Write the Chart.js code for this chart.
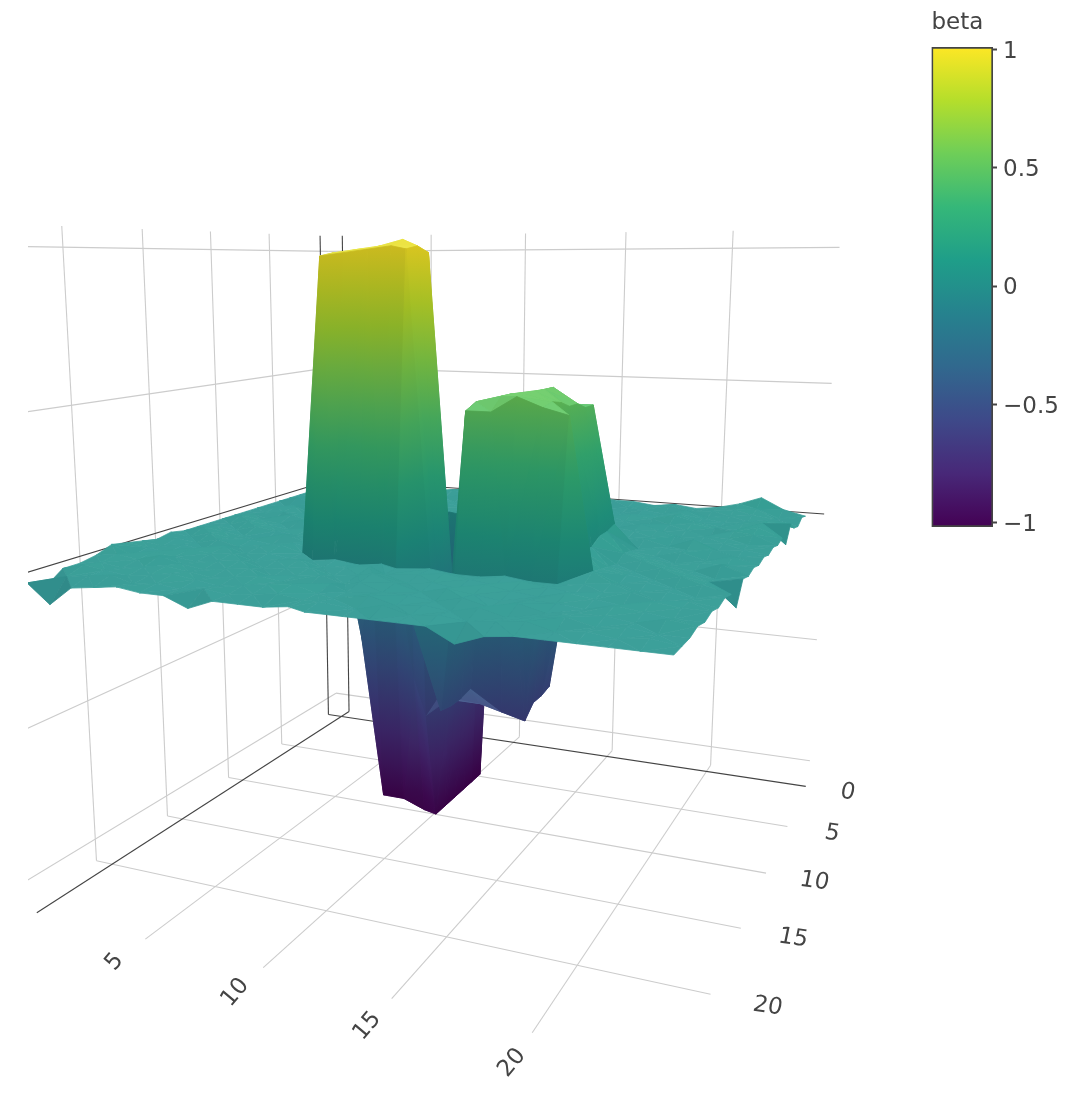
<!DOCTYPE html><html><head><meta charset="utf-8">
<style>html,body{margin:0;background:#fff}canvas{position:absolute;top:0}</style>
<script src="https://cdn.jsdelivr.net/npm/chart.js@4"></script></head><body>
<canvas id="scene" width="1072" height="1098" style="left:0"></canvas>
<canvas id="bar" width="172" height="560" style="left:900px"></canvas>
<script>
const xGrid=[0,1,2,3,4,5,6,7,8,9,10,11,11.6,13,14,15,16,17,18,19,20,21,22,23,24];
const yGrid=[0,1,2,3,4,5,6,7,8,9,10,11,12,13,14,15,16,17,18,19,20,21,22,23,24];
const xTicks=[5,10,15,20];
const yTicks=[0,5,10,15,20];
const zTicks=[-1,-0.5,0.5,1];
const colorTicks=[-1,-0.5,0,0.5,1];
const viridis=['#440154','#482878','#3e4989','#31688e','#26828e','#1f9e89','#35b779','#6ece58','#b5de2b','#fde725'];
const betaRows=[
[.01,.00,.01,-.01,.01,.02,.00,.01,-.01,.01,.00,.02,.01,-.01,.00,.01,.01,.00,.01,.00,.01,.03,.06,.02,.00],
[.00,.01,-.01,.02,.00,-.01,.01,.02,.00,.01,.02,-.01,.00,.01,.02,-.01,.00,.01,.02,.00,.01,.02,.03,.00,.01],
[.01,-.01,.01,.00,.02,.01,-.01,.00,.02,-.01,.01,.00,.01,.02,.00,.01,-.01,.01,.00,.02,.00,.01,.02,.01,-.01],
[.00,.02,.01,-.01,.00,.02,-.01,.01,.00,.02,.01,-.01,.02,.00,.01,.02,-.01,.00,.01,.02,.01,.00,.01,.02,.00],
[.00,.00,-.01,.02,.01,.00,.02,-.01,.01,.00,.02,.01,.00,-.01,.02,.00,.01,.02,.01,.03,.01,.00,.02,.03,.03],
[.00,.01,.02,.00,-.01,.01,.00,.02,.01,-.01,.00,.02,.01,.01,.00,.02,.00,.01,-.01,.01,.02,.01,.01,.04,-.03],
[.00,.02,.00,.01,.02,-.01,.01,.00,.00,.01,.00,.00,.01,.00,.02,.01,.00,.00,.02,.00,.01,-.01,.02,.04,.01],
[.00,-.01,.01,.02,.00,.01,.00,.01,-.98,-.99,-1.0,-1.0,.00,.01,.00,.01,.01,.00,.01,.02,.00,.01,.01,.03,.00],
[.00,.01,.02,-.01,.01,.00,.02,.00,-1.0,-1.0,-.99,-1.0,.00,.00,.00,.00,.00,.01,.00,.01,.02,.00,.01,.01,.01],
[.00,.00,.01,.01,-.01,.02,.00,.01,-1.0,-.99,-1.0,-1.0,-.50,-.50,-.50,-.55,.00,.05,.00,.02,.00,.03,.00,.01,.00],
[.00,.01,-.01,.02,.00,.01,.01,.00,-.99,-1.0,-1.0,-1.0,-.50,-.50,-.50,-.56,.48,.48,.08,.00,.01,.01,.02,.00,.01],
[.00,.02,.01,.00,.02,-.01,.00,-.40,-1.0,-1.0,-1.03,-1.0,-.50,-.50,-.50,-.56,.48,.48,.07,.01,.00,.02,.00,.02,.00],
[.00,.00,.02,.01,.00,.01,.02,.00,.00,.00,-.50,-1.0,-.56,-.56,-.58,-.60,.55,.50,.07,.02,.01,.00,.01,.01,.01],
[.00,.01,.00,.02,.01,.00,.01,.00,.95,.97,.98,-.60,-.52,-.48,.50,.53,.55,.50,.05,.00,.02,.01,.00,.03,.00],
[.00,.02,.01,.00,-.01,.02,.00,.00,.98,.99,1.0,1.0,.98,-.49,.50,.54,.55,.52,.05,.01,.00,.02,.01,.00,.01],
[.01,.00,.02,.01,.01,.00,.01,.00,.98,.99,1.0,1.02,1.0,-.49,.52,.54,.55,.53,.06,.02,.01,.00,.02,.01,-.06],
[.00,.01,.00,.02,.00,.01,.02,.00,.97,.98,.99,1.0,.99,-.48,.50,.50,.55,.52,.50,.03,.00,.01,.00,.02,.00],
[.01,.00,.01,.00,.02,.00,.01,.00,.00,.01,.00,.01,.00,.01,.00,.00,.01,.00,.00,.01,.02,.00,.01,.00,.01],
[.02,.01,.00,.02,.01,.02,.00,.01,.02,.00,.01,.02,.00,.01,.02,.01,.00,.02,.01,.00,.01,.02,.00,.01,.00],
[.03,.00,.02,.01,.00,.01,.02,.00,.01,.02,.00,.01,.02,.00,.01,.00,.02,.01,.00,.02,.01,.00,.02,.01,.01],
[.01,.02,.01,.03,.01,.00,.01,.02,.00,.01,.02,.00,.01,.02,.00,.02,.01,.00,.01,.01,.00,.02,.01,.00,.00],
[.00,.01,.00,.01,.02,.01,.00,.01,.02,.01,.00,.02,.00,.01,.01,.00,.02,.00,.02,.00,.01,.01,.00,.02,.01],
[.00,.02,.01,.00,.01,.02,.01,.00,.01,.02,.03,.01,.00,.02,.00,.01,.00,.02,.00,.01,.02,.00,.01,.00,.00],
[-.04,.00,.01,.02,.00,.01,.00,.01,.00,.01,.02,.01,.01,.00,.02,.00,.01,.00,.01,.02,.00,.01,.00,.01,.00],
[-.01,-.07,-.01,.00,.01,.00,.00,-.03,.00,.00,.00,.01,.00,.00,.00,.00,.00,-.04,-.01,.00,.00,.00,.00,.00,.00]
];
const boxX=[-0.8,24.7],boxY=[-0.9,24.6],boxZ=[-1.08,1.065];
const labelX=26.6,labelY=26.4;
const P=[[14.875279,-13.297969,-14.806917,337.74857],[-1.5674562,-3.3417899,-240.30517,482.98809],[-0.0057202165,-0.012718251,-0.033588001,1]];
const project=(x,y,z)=>{const w=P[2][0]*x+P[2][1]*y+P[2][2]*z+1;return{x:(P[0][0]*x+P[0][1]*y+P[0][2]*z+P[0][3])/w,y:(P[1][0]*x+P[1][1]*y+P[1][2]*z+P[1][3])/w};};
function cameraXY(){const m=[[P[0][0],P[0][1],P[0][2],-P[0][3]],[P[1][0],P[1][1],P[1][2],-P[1][3]],[P[2][0],P[2][1],P[2][2],-1]];
 for(let i=0;i<3;i++){let p=i;for(let k=i;k<3;k++)if(Math.abs(m[k][i])>Math.abs(m[p][i]))p=k;[m[i],m[p]]=[m[p],m[i]];for(let k=0;k<3;k++)if(k!=i){const f=m[k][i]/m[i][i];for(let j=i;j<4;j++)m[k][j]-=f*m[i][j];}}
 return m.map((r,i)=>r[3]/r[i]);}
const rgbStops=viridis.map(h=>[1,3,5].map(i=>parseInt(h.substr(i,2),16)));
function vir(z){let t=(Math.min(1,Math.max(-1,z))+1)/2*(rgbStops.length-1);const i=Math.min(rgbStops.length-2,Math.floor(t));t-=i;return rgbStops[i].map((c,k)=>c+(rgbStops[i+1][k]-c)*t);}
const Z_SCALE=11;
function shadeOf(a,b,c){const ux=b[0]-a[0],uy=b[1]-a[1],uz=(b[2]-a[2])*Z_SCALE,vx=c[0]-a[0],vy=c[1]-a[1],vz=(c[2]-a[2])*Z_SCALE;
 let nx=uy*vz-uz*vy,ny=uz*vx-ux*vz,nz=ux*vy-uy*vx;const l=Math.hypot(nx,ny,nz)||1;nx/=l;ny/=l;nz/=l;if(nz<0){nx=-nx;ny=-ny;nz=-nz;}
 return{k:.8+.05*Math.max(0,nx),f:Math.pow(nz,1.5)};}
function col(z,sh){const c=vir(z);return`rgb(${Math.round(c[0]*sh.k+33*sh.f)},${Math.round(c[1]*sh.k+44*sh.f)},${Math.round(c[2]*sh.k+42*sh.f)})`;}
function drawTri(ctx,sx,sy,a,b,c){
 const P3=[a,b,c].map(p=>{const q=project(...p);return{z:p[2],x:sx.getPixelForValue(q.x),y:sy.getPixelForValue(q.y)};});
 const sh=shadeOf(a,b,c);
 const o=[...P3].sort((p,q)=>p.z-q.z),lo=o[0],mid=o[1],hi=o[2];
 let style;
 if(hi.z-lo.z<.08){style=col((lo.z+mid.z+hi.z)/3,sh);}
 else{const t=(mid.z-lo.z)/(hi.z-lo.z),mx=lo.x+(hi.x-lo.x)*t,my=lo.y+(hi.y-lo.y)*t;
  let dx=mid.x-mx,dy=mid.y-my,ex2,ey2;const dl=Math.hypot(dx,dy);
  if(dl<1){ex2=hi.x;ey2=hi.y;}else{const nx=-dy/dl,ny=dx/dl,d=(hi.x-lo.x)*nx+(hi.y-lo.y)*ny;ex2=lo.x+nx*d;ey2=lo.y+ny*d;}
  style=ctx.createLinearGradient(lo.x,lo.y,ex2,ey2);
  for(let i=0;i<=8;i++)style.addColorStop(i/8,col(lo.z+(hi.z-lo.z)*i/8,sh));}
 ctx.fillStyle=style;ctx.strokeStyle=style;ctx.beginPath();ctx.moveTo(P3[0].x,P3[0].y);ctx.lineTo(P3[1].x,P3[1].y);ctx.lineTo(P3[2].x,P3[2].y);ctx.closePath();ctx.fill();ctx.stroke();
}
const surfacePlugin={id:'surface',afterDatasetsDraw(chart){
 const ctx=chart.ctx,sx=chart.scales.x,sy=chart.scales.y,a=chart.chartArea;
 ctx.save();ctx.beginPath();ctx.rect(a.left,a.top,a.right-a.left,a.bottom-a.top);ctx.clip();ctx.lineWidth=.8;ctx.lineJoin='round';
 const cam=cameraXY();const nx=xGrid.length,ny=yGrid.length;
 const order=[];let cx=Math.floor(cam[0]);for(let i=0;i<nx-1;i++)if(i<cx)order.push(i);for(let i=nx-2;i>=0;i--)if(i>=cx)order.push(i);
 const v=(p,q)=>[xGrid[p],yGrid[q],betaRows[q][p]];
 for(let j=0;j<ny-1;j++)for(const i of order){
  const d1=Math.abs(betaRows[j][i+1]-betaRows[j+1][i]),d2=Math.abs(betaRows[j][i]-betaRows[j+1][i+1]);
  if(d1<=d2){drawTri(ctx,sx,sy,v(i,j),v(i+1,j),v(i,j+1));drawTri(ctx,sx,sy,v(i+1,j),v(i+1,j+1),v(i,j+1));}
  else{drawTri(ctx,sx,sy,v(i,j),v(i+1,j),v(i+1,j+1));drawTri(ctx,sx,sy,v(i,j),v(i+1,j+1),v(i,j+1));}
 }
 ctx.restore();
 ctx.save();ctx.fillStyle='#444';ctx.font='23px "DejaVu Sans"';ctx.textAlign='center';ctx.textBaseline='middle';
 const th=(50)*Math.PI/180;
 for(const t of xTicks){const p=project(t,labelY,boxZ[0]);ctx.setTransform(Math.cos(th),-Math.sin(th),Math.sin(th),Math.cos(th),sx.getPixelForValue(p.x),sy.getPixelForValue(p.y));ctx.fillText(String(t),0,0);}
 for(const t of yTicks){const p=project(labelX,t,boxZ[0]);ctx.setTransform(.99,.14,-.2,.98,sx.getPixelForValue(p.x),sy.getPixelForValue(p.y));ctx.fillText(String(t),0,0);}
 ctx.restore();
}};
const lines=[];
function seg(a,b,zero){lines.push({data:[project(...a),project(...b)],showLine:true,pointRadius:0,borderColor:zero?'#444':'rgb(204,204,204)',borderWidth:1.1,order:zero?0:1});}
const [x0,x1]=boxX,[y0,y1]=boxY,[z0,z1]=boxZ;
for(const t of [0,...xTicks]){seg([t,y0,z0],[t,y1,z0],t===0);seg([t,y0,z0],[t,y0,z1],t===0);}
for(const t of yTicks){seg([x0,t,z0],[x1,t,z0],t===0);seg([x0,t,z0],[x0,t,z1],t===0);}
for(const t of [0,...zTicks]){seg([x0,y0,t],[x1,y0,t],t===0);seg([x0,y0,t],[x0,y1,t],t===0);}
Chart.defaults.animation=false;
new Chart(document.getElementById('scene'),{type:'scatter',data:{datasets:lines},plugins:[surfacePlugin],
 options:{responsive:false,devicePixelRatio:1,layout:{padding:{left:28}},plugins:{legend:{display:false},tooltip:{enabled:false}},
 scales:{x:{type:'linear',display:false,min:28,max:1072},y:{type:'linear',display:false,reverse:true,min:0,max:1098}}}});
new Chart(document.getElementById('bar'),{type:'bar',
 data:{labels:['beta'],datasets:[{data:[[-1.018,1.0097]],barPercentage:1,categoryPercentage:1,borderColor:'#444',borderWidth:2,borderSkipped:false,
  backgroundColor(c){const a=c.chart.chartArea;if(!a)return '#fff';const g=c.chart.ctx.createLinearGradient(0,a.bottom,0,a.top);viridis.forEach((h,i)=>g.addColorStop(i/(viridis.length-1),h));return g;}}]},
 options:{responsive:false,devicePixelRatio:1,layout:{padding:{left:31.5,top:9,bottom:33}},
 plugins:{legend:{display:false},tooltip:{enabled:false},title:{display:true,text:'beta',align:'start',color:'#444',font:{family:'"DejaVu Sans"',size:23,weight:'normal'},padding:{top:0,bottom:10.4}}},
 scales:{x:{display:false},y:{position:'right',min:-1.018,max:1.0097,afterBuildTicks(s){s.ticks=colorTicks.map(v=>({value:v}));},afterFit(s){s.width=79;},
  border:{display:false},grid:{drawOnChartArea:false,tickLength:4,tickWidth:2,tickColor:'#444'},
  ticks:{color:'#444',padding:6,labelOffset:2.5,font:{family:'"DejaVu Sans"',size:23},callback:v=>String(v).replace('-','\u2212')}}}}});
</script></body></html>
